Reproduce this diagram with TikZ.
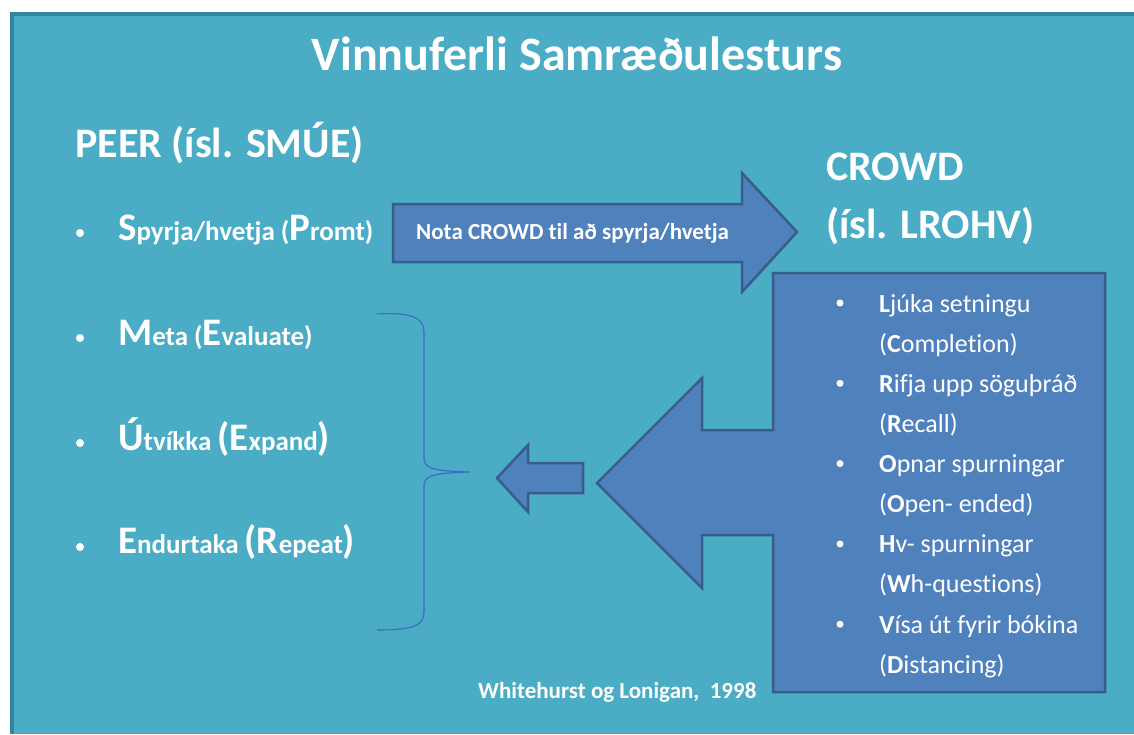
\documentclass[tikz,border=0pt]{standalone}
\usepackage{fontspec}
\setmainfont{Carlito}[Ligatures=NoCommon]
\usetikzlibrary{positioning}

\definecolor{panel}{HTML}{4BACC6}
\definecolor{panelrim}{HTML}{31849B}
\definecolor{blk}{HTML}{4F81BD}
\definecolor{blkrim}{HTML}{385D8A}

\newcommand{\bigini}[1]{{\fontsize{39pt}{39pt}\selectfont #1}}

\begin{document}
\begin{tikzpicture}[
  x=1pt, y=-1pt,
  txt/.style={text=white, inner sep=0pt, anchor=base west},
  head/.style={txt, font=\fontsize{42pt}{46pt}\selectfont\bfseries},
  peer/.style={txt, font=\fontsize{27pt}{30pt}\selectfont\bfseries},
  crowditem/.style={txt, font=\fontsize{26pt}{30pt}\selectfont},
  blockarrow/.style={fill=blk, draw=blkrim, line width=2.5pt, line join=miter},
  dot/.style={fill=white},
  brace/.style={draw=blk!80!blue, line width=1.1pt}
]
  \useasboundingbox (0,0) rectangle (1134,734);
  \fill[panel] (10,12) rectangle (1134,734);
  \draw[panelrim, line width=4pt] (12,734) -- (12,14) -- (1134,14);

  \node[txt, anchor=base, font=\fontsize{48pt}{52pt}\selectfont\bfseries] (title) at (577,70) {Vinnuferli Samræðulesturs};
  \node[head] (peerhd) at (75,157) {PEER (ísl. SMÚE)};

  % PEER list
  \node[peer] (p1) at (118,240) {\bigini{S}pyrja/hvetja (\bigini{P}romt)};
  \node[peer] (p2) at (118,345) {\bigini{M}eta (\bigini{E}valuate)};
  \node[peer] (p3) at (118,450) {\bigini{Ú}tvíkka \bigini{(E}xpand\bigini{)}};
  \node[peer] (p4) at (118,553) {\bigini{E}ndurtaka \bigini{(R}epeat\bigini{)}};
  \foreach \y in {233,338,443,547}
    \fill[dot] (80,\y) circle (4pt);

  % arrow to CROWD
  \draw[blockarrow] (393,204) -- (742,204) -- (742,173) -- (797,232)
    -- (742,292) -- (742,262) -- (393,262) -- cycle;
  \node[txt, font=\fontsize{23pt}{26pt}\selectfont\bfseries] (nota) at (416,239) {Nota CROWD til að spyrja/hvetja};

  \node[head] (crowd) at (826,180) {CROWD};
  \node[head] (lrohv) at (826,238) {(ísl. LROHV)};

  % CROWD box with arrow
  \draw[blockarrow] (773,273) -- (1105,273) -- (1105,692) -- (773,692)
    -- (773,535) -- (702,535) -- (702,588) -- (597,483) -- (702,378)
    -- (702,430) -- (773,430) -- cycle;
  \foreach \ha/\hb/\la/\lb [count=\i from 0] in {L/júka setningu/C/ompletion,
      R/ifja upp söguþráð/R/ecall, O/pnar spurningar/O/pen- ended,
      H/v- spurningar/W/h-questions, V/ísa út fyrir bókina/D/istancing}
  {
    \fill[dot] (840,{303+80.3*\i}) circle (3.5pt);
    \node[crowditem] (c\i a) at (879,{312+80.3*\i}) {\textbf{\ha}\hb};
    \node[crowditem] (c\i b) at (879,{352+80.3*\i}) {(\textbf{\la}\lb)};
  }

  % small arrow back to PEER
  \draw[blockarrow] (583,463) -- (528,463) -- (528,445) -- (497,478)
    -- (528,512) -- (528,493) -- (583,493) -- cycle;

  % brace
  \draw[brace] (377,314) .. controls (412,312) and (424,318) .. (424,332)
    -- (424,458) .. controls (424,468) and (432,471) .. (470,472)
    .. controls (432,473) and (424,476) .. (424,486)
    -- (424,612) .. controls (424,626) and (412,630) .. (377,630);

  \node[txt, font=\fontsize{23pt}{26pt}\selectfont\bfseries] (cite) at (478,698) {Whitehurst og Lonigan,\ \ 1998};
\end{tikzpicture}
\end{document}
